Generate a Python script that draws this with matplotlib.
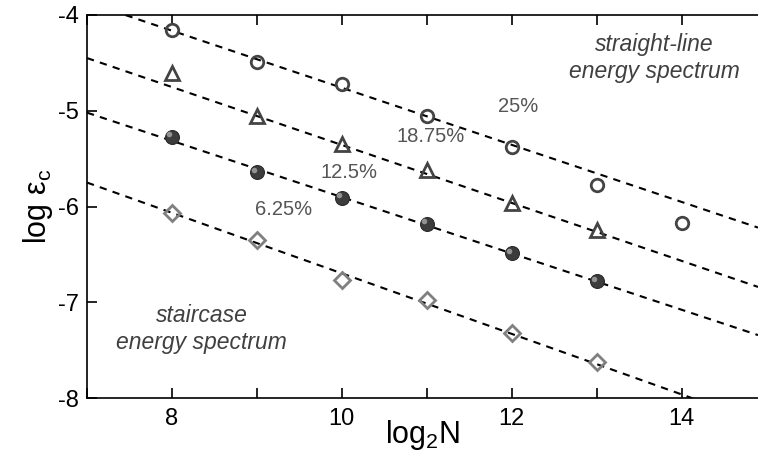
import matplotlib
matplotlib.use("Agg")
import matplotlib.pyplot as plt
from matplotlib.ticker import MultipleLocator
from matplotlib.transforms import offset_copy
import numpy as np

plt.rcParams['font.family'] = ['Liberation Sans', 'DejaVu Sans']
plt.rcParams['mathtext.fontset'] = 'custom'
plt.rcParams['mathtext.rm'] = 'Liberation Sans'
plt.rcParams['mathtext.it'] = 'Liberation Sans:italic'
plt.rcParams['axes.unicode_minus'] = False

# data
log2n = [8, 9, 10, 11, 12, 13]
log2n_long = [8, 9, 10, 11, 12, 13, 14]
eps_25 = [-4.16, -4.49, -4.72, -5.05, -5.38, -5.78, -6.17]      # circles
eps_1875 = [-4.61, -5.06, -5.35, -5.62, -5.96, -6.25]           # triangles
eps_125 = [-5.27, -5.64, -5.91, -6.18, -6.49, -6.78]            # spheres
eps_625 = [-6.07, -6.35, -6.77, -6.98, -7.32, -7.62]            # diamonds

# dashed guide lines: value at log2N = 7 and slope
fit_at7 = [-3.866, -4.45, -5.02, -5.75]
fit_slope = [-0.298, -0.3025, -0.294, -0.316]

fig = plt.figure(figsize=(7.58, 4.54), dpi=100)
ax = fig.add_axes([0.1148, 0.1233, 0.8852, 0.8437])

xmin, xmax = 7, 14.9
xs = np.array([xmin, xmax])
for a, b in zip(fit_at7, fit_slope):
    ax.plot(xs, a + b * (xs - 7), color='black', lw=1.5, dashes=(3.5, 3), zorder=2)

dark = '#444444'
ax.plot(log2n_long, eps_25, 'o', ms=9, mfc='none', mec=dark, mew=2, zorder=3)
ax.plot(log2n, eps_1875, '^', ms=10, mfc='none', mec=dark, mew=2, zorder=3)
# shaded spheres: dark ball plus a small highlight up-left
ax.plot(log2n, eps_125, 'o', ms=10, mfc='#3c3c3c', mec='#2a2a2a', mew=0.8, zorder=3)
hl = offset_copy(ax.transData, fig=fig, x=-1.8, y=1.8, units='points')
ax.plot(log2n, eps_125, 'o', ms=4, mfc='#a8a8a8', mec='none', alpha=0.8, transform=hl, zorder=4)
ax.plot(log2n, eps_625, 'D', ms=8, mfc='none', mec='#808080', mew=2, zorder=3)

lab_c = '#555555'
ax.text(12.08, -4.96, '25%', fontsize=14.5, color=lab_c, ha='center', va='center')
ax.text(11.04, -5.27, '18.75%', fontsize=14.5, color=lab_c, ha='center', va='center')
ax.text(10.09, -5.64, '12.5%', fontsize=14.5, color=lab_c, ha='center', va='center')
ax.text(9.31, -6.03, '6.25%', fontsize=14.5, color=lab_c, ha='center', va='center')

ax.text(13.68, -4.45, 'straight-line\nenergy spectrum', fontsize=16.5, style='italic',
        color='#404040', ha='center', va='center', linespacing=1.2)
ax.text(8.35, -7.28, 'staircase\nenergy spectrum', fontsize=16.5, style='italic',
        color='#404040', ha='center', va='center', linespacing=1.2)

ax.set_xlim(xmin, xmax)
ax.set_ylim(-8, -4)
ax.xaxis.set_major_locator(MultipleLocator(2))
ax.xaxis.set_minor_locator(MultipleLocator(1))
ax.yaxis.set_major_locator(MultipleLocator(1))
ax.tick_params(axis='both', which='both', direction='in', length=7, width=1.2, labelsize=17)
ax.tick_params(axis='x', which='both', top=True, pad=7)
ax.tick_params(axis='y', which='both', right=False, pad=6)
ax.spines['right'].set_visible(False)
for s in ['left', 'top', 'bottom']:
    ax.spines[s].set_linewidth(1.2)

ax.set_xlabel('log$_\\mathrm{2}$N', fontsize=22)
ax.xaxis.set_label_coords(0.5, -0.14, transform=ax.transAxes)
ax.xaxis.label.set_va('bottom')
ax.set_ylabel('log ε$_\\mathrm{c}$', fontsize=22, labelpad=2)

fig.savefig('out.png', dpi=100)
